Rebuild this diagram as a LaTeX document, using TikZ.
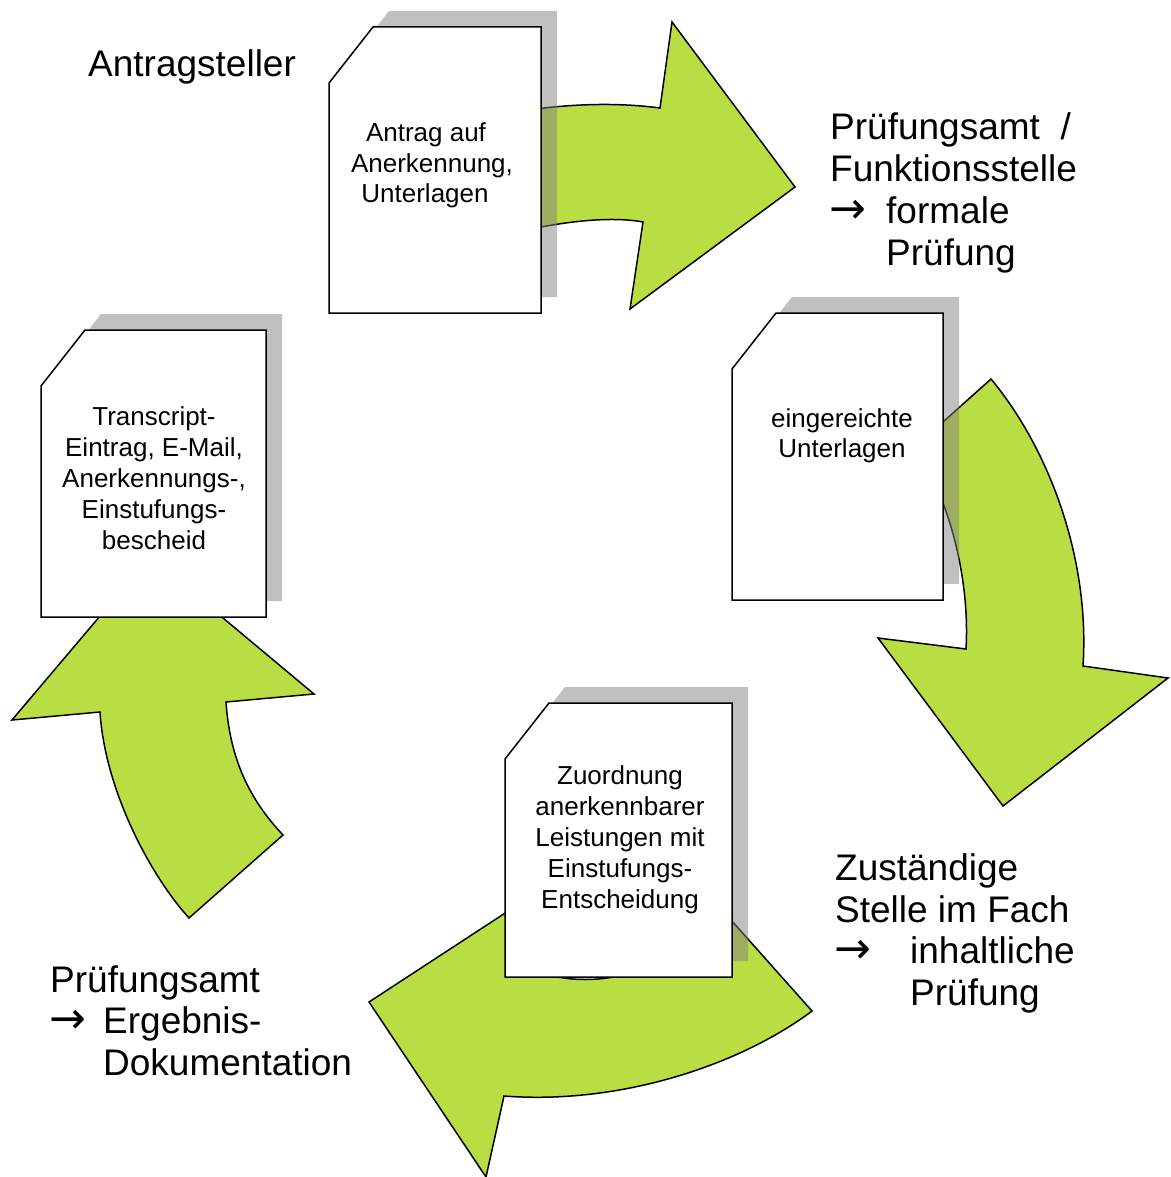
\documentclass[tikz,border=0pt]{standalone}
\usepackage{fontspec}
\setmainfont{Liberation Sans}
\newfontfamily\arrowfont{DejaVu Sans}
\definecolor{arrgreen}{RGB}{187,221,68}
\definecolor{shadowgray}{RGB}{129,129,129}
\tikzset{
  arrowshape/.style={fill=arrgreen, draw=black, line width=1.5pt, line join=miter},
  shadowshape/.style={fill=shadowgray, fill opacity=0.5, draw=none},
  pageshape/.style={fill=white, draw=black, line width=1.5pt},
  btxt/.style={anchor=base, inner sep=0pt, font=\fontsize{26}{30}\selectfont},
  lbl/.style={anchor=base west, inner sep=0pt, font=\fontsize{37}{42}\selectfont},
  arr/.style={anchor=base west, inner sep=0pt, font=\fontsize{44}{42}\arrowfont},
}
% #1 left, #2 top, #3 right, #4 bottom
\newcommand\docpage[4]{%
  \fill[shadowshape] (#1+16,#4-16) -- (#1+16,#2+56-16) -- (#1+44+16,#2-16) -- (#3+16,#2-16) -- (#3+16,#4-16) -- cycle;
  \filldraw[pageshape] (#1,#4) -- (#1,#2+56) -- (#1+44,#2) -- (#3,#2) -- (#3,#4) -- cycle;
}
\begin{document}
\begin{tikzpicture}[x=1pt,y=-1pt]
\useasboundingbox (0,0) rectangle (1170,1177);
% curved arrows
\draw[arrowshape] (470,122) .. controls (530,106) and (600,100) .. (660,108) -- (672,22) -- (795,187) -- (630,309) -- (643,222) .. controls (600,214) and (530,226) .. (470,245) -- cycle;
\draw[arrowshape] (991,379) .. controls (1050,450) and (1090,560) .. (1083,666) -- (1168,678) -- (1003,806) -- (878,638) -- (966,649) .. controls (970,580) and (950,500) .. (915,447) -- cycle;
\draw[arrowshape] (812,1011) .. controls (740,1065) and (620,1105) .. (504,1096) -- (486,1177) -- (369,1002) -- (545,887) -- (528,968) .. controls (590,995) and (680,975) .. (715,902) -- cycle;
\draw[arrowshape] (189,918) .. controls (150,875) and (105,790) .. (100,712) -- (12,720) -- (150,557) -- (314,694) -- (226,702) .. controls (230,760) and (250,800) .. (283,835) -- cycle;
% documents
\docpage{329}{27}{541}{313}
\docpage{732}{313}{943}{600}
\docpage{505}{703}{732}{977}
\docpage{41}{330}{266}{617}
% document texts
\node[btxt] (d1a) at (426,142) {Antrag auf};
\node[btxt] (d1b) at (432,173) {Anerkennung,};
\node[btxt] (d1c) at (425,203) {Unterlagen};
\node[btxt] (d2a) at (842,427) {eingereichte};
\node[btxt] (d2b) at (842,457) {Unterlagen};
\node[btxt] (d3a) at (620,784) {Zuordnung};
\node[btxt] (d3b) at (620,815) {anerkennbarer};
\node[btxt] (d3c) at (620,846) {Leistungen mit};
\node[btxt] (d3d) at (620,877) {Einstufungs-};
\node[btxt] (d3e) at (620,908) {Entscheidung};
\node[btxt] (d4a) at (154,425) {Transcript-};
\node[btxt] (d4b) at (154,456) {Eintrag, E-Mail,};
\node[btxt] (d4c) at (154,487) {Anerkennungs-,};
\node[btxt] (d4d) at (154,518) {Einstufungs-};
\node[btxt] (d4e) at (154,549) {bescheid};
% role labels
\node[lbl] (l1) at (88,77) {Antragsteller};
\node[lbl] (l2a) at (830,140) {Prüfungsamt\ \ /};
\node[lbl] (l2b) at (830,182) {Funktionsstelle};
\node[arr] (l2c) at (829,223) {→};
\node[lbl] (l2d) at (886,223) {formale};
\node[lbl] (l2e) at (886,265) {Prüfung};
\node[lbl] (l3a) at (835,880) {Zuständige};
\node[lbl] (l3b) at (835,922) {Stelle im Fach};
\node[arr] (l3c) at (834,963) {→};
\node[lbl] (l3d) at (910,963) {inhaltliche};
\node[lbl] (l3e) at (910,1005) {Prüfung};
\node[lbl] (l4a) at (50,992) {Prüfungsamt};
\node[arr] (l4b) at (49,1033) {→};
\node[lbl] (l4c) at (103,1033) {Ergebnis-};
\node[lbl] (l4d) at (103,1075) {Dokumentation};
\end{tikzpicture}
\end{document}
